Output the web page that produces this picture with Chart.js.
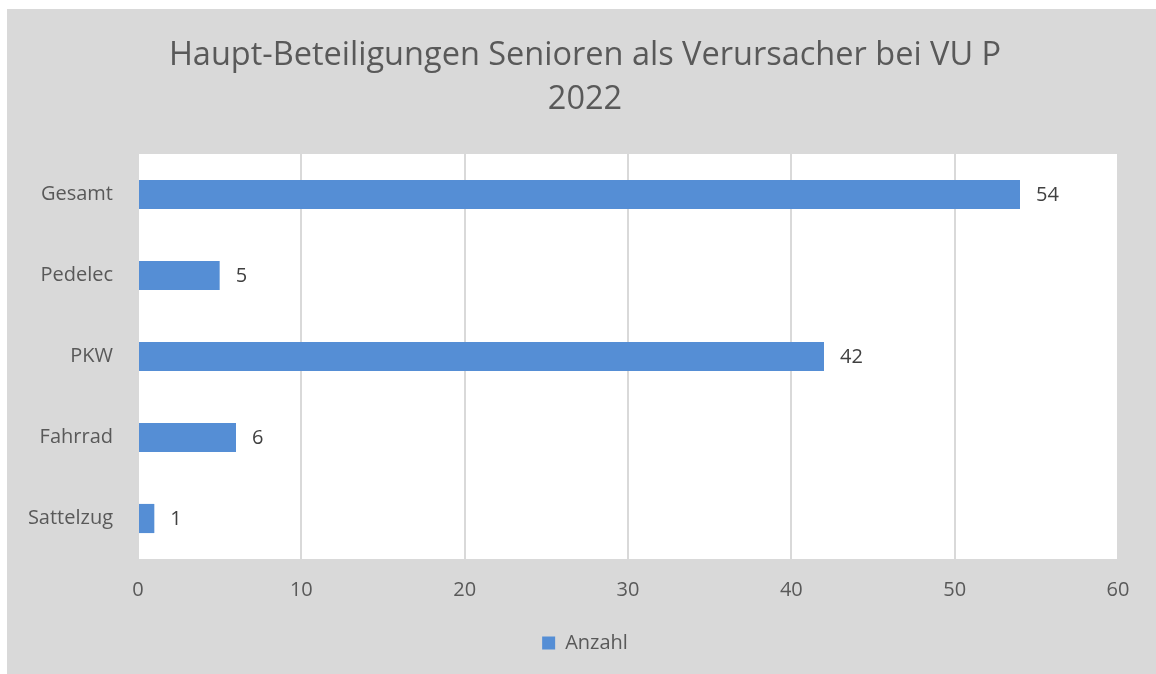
<!DOCTYPE html>
<html>
<head>
<meta charset="utf-8">
<script src="https://cdn.jsdelivr.net/npm/chart.js@4"></script>
<style>
  html, body { margin: 0; padding: 0; background: #ffffff; }
  #wrap { width: 1156px; height: 674px; }
</style>
</head>
<body>
<div id="wrap"><canvas id="c" width="1156" height="674"></canvas></div>
<script>
const categories = ['Gesamt', 'Pedelec', 'PKW', 'Fahrrad', 'Sattelzug'];
const anzahl = [54, 5, 42, 6, 1];
const seriesName = 'Anzahl';
const titleLines = ['Haupt-Beteiligungen Senioren als Verursacher bei VU P', '2022'];
const xTicks = [0, 10, 20, 30, 40, 50, 60];

const FONT = "'Open Sans', 'DejaVu Sans', sans-serif";
const TEXT = '#595959';
const BAR = '#558ed5';
const GRAY = '#d9d9d9';
const BOTTOM_PAD = 11;

const bgPlugin = {
  id: 'bg',
  beforeDraw(chart) {
    const ctx = chart.ctx, a = chart.chartArea;
    ctx.save();
    ctx.fillStyle = '#ffffff';
    ctx.fillRect(0, 0, chart.width, chart.height);
    ctx.fillStyle = GRAY;
    ctx.fillRect(7, 9, chart.width - 7, chart.height - 9);
    ctx.fillStyle = '#ffffff';
    ctx.fillRect(a.left, a.top, a.right - a.left, a.bottom - a.top);
    ctx.restore();
  }
};

const labelPlugin = {
  id: 'vals',
  afterDatasetsDraw(chart) {
    const ctx = chart.ctx;
    const meta = chart.getDatasetMeta(0);
    ctx.save();
    ctx.font = '20px ' + FONT;
    ctx.fillStyle = '#404040';
    ctx.textAlign = 'left';
    ctx.textBaseline = 'middle';
    meta.data.forEach((bar, i) => {
      ctx.fillText(String(chart.data.datasets[0].data[i]), bar.x + 16, bar.y + 1);
    });
    ctx.restore();
  }
};

new Chart(document.getElementById('c'), {
  type: 'bar',
  data: {
    labels: categories,
    datasets: [{
      label: seriesName,
      data: anzahl,
      backgroundColor: BAR,
      borderWidth: 0,
      categoryPercentage: 0.8,
      barPercentage: 0.45
    }]
  },
  options: {
    indexAxis: 'y',
    responsive: false,
    animation: false,
    layout: { padding: { left: 14, right: 0, top: 9, bottom: BOTTOM_PAD } },
    plugins: {
      title: {
        display: true,
        text: titleLines,
        color: TEXT,
        font: { family: FONT, size: 32.5, weight: 'normal', lineHeight: 1.354 },
        padding: { top: 25, bottom: 32 }
      },
      legend: {
        display: true,
        position: 'bottom',
        labels: {
          color: TEXT,
          font: { family: FONT, size: 20 },
          boxWidth: 13,
          boxHeight: 13,
          padding: 23
        }
      },
      tooltip: { enabled: false }
    },
    scales: {
      x: {
        min: 0,
        max: 60,
        afterBuildTicks(axis) { axis.ticks = xTicks.map(v => ({ value: v })); },
        ticks: { color: TEXT, font: { family: FONT, size: 20 }, padding: 19 },
        grid: { color: GRAY, lineWidth: 2, drawTicks: false },
        border: { display: false },
        afterFit(axis) {
          const lh = axis.chart.legend ? axis.chart.legend.height : 60;
          axis.height = 674 - 559 - lh - BOTTOM_PAD;
          axis.paddingRight = 38;
        }
      },
      y: {
        ticks: { color: TEXT, font: { family: FONT, size: 20 }, padding: 25 },
        grid: { display: false, drawTicks: false },
        border: { display: false },
        afterFit(axis) { axis.width = 124; }
      }
    }
  },
  plugins: [bgPlugin, labelPlugin]
});
</script>
</body>
</html>
